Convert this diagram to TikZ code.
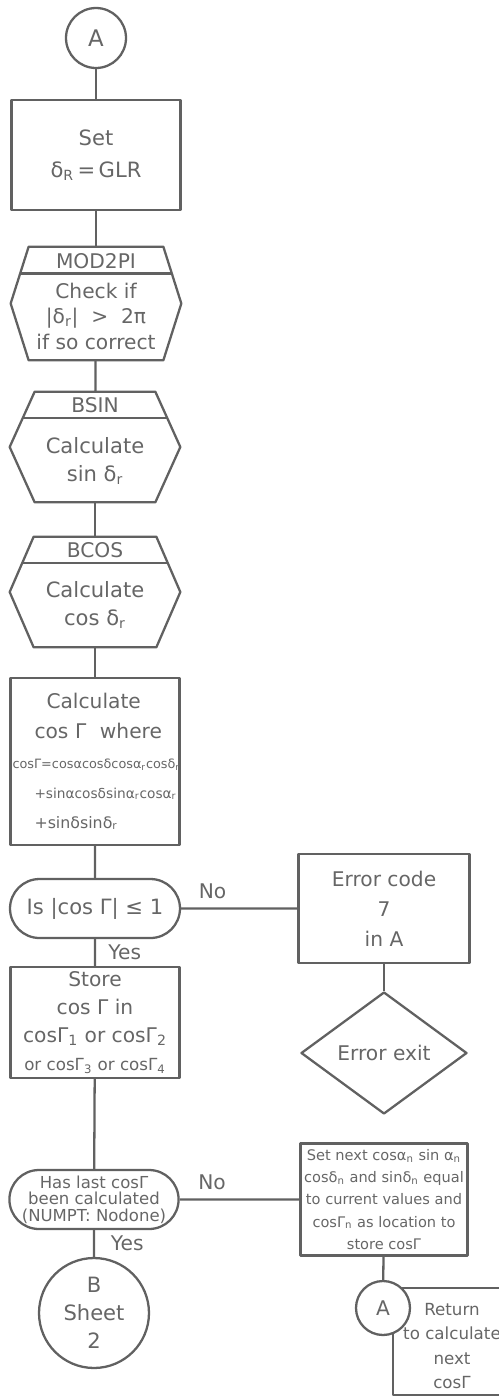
\documentclass[tikz,border=0pt]{standalone}
\usepackage{fontspec}
\setmainfont{DejaVu Sans}
\usepackage{tikz}
\usetikzlibrary{shapes.geometric, shapes.misc, calc}

\begin{document}
\begin{tikzpicture}[%
    x=0.02cm, y=-0.02cm,
    every node/.style={text=black!60, font=\fontsize{11.5}{17}\selectfont},
    ink/.style={draw=black!62, line width=1.3pt, line join=round},
    procbox/.style={ink, rectangle, align=center, inner sep=0, minimum width=3.38cm},
    termcircle/.style={ink, circle, align=center, inner sep=0, fill=white},
    decision/.style={ink, rounded rectangle, align=center, inner sep=0,
      minimum width=3.4cm, minimum height=1.18cm},
    hexhold/.style={rectangle, inner sep=0, minimum width=3.4cm},
    errexit/.style={ink, diamond, aspect=1.4, inner sep=0,
      minimum width=3.32cm, minimum height=2.44cm},
    lbl/.style={inner sep=1pt}
  ]
    \useasboundingbox (0,0) rectangle (499,1397);

    % main column
    \node[termcircle, minimum size=1.2cm, font=\fontsize{13}{17}\selectfont] at (96,38) (1) {A};
    \node[procbox, minimum height=2.2cm, font=\fontsize{12}{18}\selectfont] at (96,155) (2) {Set\\δ\textsubscript{R}\,=\,GLR};

    \node[hexhold, minimum height=2.26cm] at (96,303.5) (3) {};
    \node at (96,261) (3h) {MOD2PI};
    \node[align=center, font=\fontsize{11.5}{14.5}\selectfont] at (96,316) (3b) {Check if\\|δ\textsubscript{r}| \ > \ 2π\\if so correct};

    \node[hexhold, minimum height=2.2cm] at (95,447) (4) {};
    \node at (95,405) (4h) {BSIN};
    \node[align=center, font=\fontsize{12}{16}\selectfont] at (95,461) (4b) {Calculate\\sin δ\textsubscript{r}};

    \node[hexhold, minimum height=2.2cm] at (95,592) (5) {};
    \node at (95,550) (5h) {BCOS};
    \node[align=center, font=\fontsize{12}{16}\selectfont] at (95,605) (5b) {Calculate\\cos δ\textsubscript{r}};

    \foreach \n/\d in {3/18,4/25,5/24}{
      \coordinate (\n tl) at ($(\n.north west)+(\d,0)$);
      \coordinate (\n tr) at ($(\n.north east)+(-\d,0)$);
      \coordinate (\n bl) at ($(\n.south west)+(\d,0)$);
      \coordinate (\n br) at ($(\n.south east)+(-\d,0)$);
      \draw[ink] (\n tl) -- (\n tr) -- (\n.east) -- (\n br) -- (\n bl) -- (\n.west) -- cycle;
      \draw[ink] ($(\n tl)!0.47!(\n.west)$) -- ($(\n tr)!0.47!(\n.east)$);
    }

    \node[procbox, minimum height=3.34cm, text width=3.3cm, align=left] at (95,761.5) (6) {\hspace*{0.68cm}Calculate\\
      \hspace*{0.44cm}cos Γ \ where\\
      {\fontsize{7.3}{17}\selectfont cosΓ=cosαcosδcosα\textsubscript{r}cosδ\textsubscript{r}}\\
      \hspace*{0.44cm}{\fontsize{7.8}{17}\selectfont +sinαcosδsinα\textsubscript{r}cosα\textsubscript{r}}\\
      \hspace*{0.44cm}{\fontsize{9}{17}\selectfont +sinδsinδ\textsubscript{r}}};

    \node[decision, font=\fontsize{12}{17}\selectfont] at (95,908.5) (7) {Is |cos Γ| ≤ 1};
    \node[procbox, minimum height=2.22cm, font=\fontsize{11.5}{16}\selectfont] at (95,1022.5) (10) {Store\\cos Γ in\\cosΓ\textsubscript{1} or cosΓ\textsubscript{2}\\{\fontsize{9.5}{16}\selectfont or cosΓ\textsubscript{3} or cosΓ\textsubscript{4}}};
    \node[decision, minimum width=3.38cm, font=\fontsize{9.4}{9.5}\selectfont] at (94,1199.5) (11) {Has last cosΓ\\been calculated\\(NUMPT: Nodone)};
    \node[termcircle, minimum size=2.2cm, font=\fontsize{12}{16}\selectfont] at (94,1313) (12) {B\\Sheet\\2};

    % right column
    \node[procbox, minimum width=3.42cm, minimum height=2.18cm] at (384,908.5) (8) {Error code\\7\\in A};
    \node[errexit] at (384,1053) (9) {Error exit};
    \node[procbox, minimum width=3.34cm, minimum height=2.24cm, font=\fontsize{8.3}{12.6}\selectfont] at (384,1199.5) (13) {Set next cosα\textsubscript{n} sin α\textsubscript{n}\\cosδ\textsubscript{n} and sinδ\textsubscript{n} equal\\to current values and\\cosΓ\textsubscript{n} as location to\\store cosΓ};

    \coordinate (15a) at (499,1288);
    \coordinate (15b) at (393,1395);
    \draw[ink] (15a) -| (15b) -- (15b -| 15a);
    \node[align=center, font=\fontsize{9.5}{14}\selectfont] at (452,1346) (15) {Return\\to calculate\\next\\cosΓ};
    \node[termcircle, minimum size=1.08cm] at (383,1308) (14) {A};

    \path[ink]
        (1) edge (2)
        (2) edge (3)
        (3) edge (4)
        (4) edge (5)
        (5) edge (6)
        (6) edge (7)
        (7) edge node[lbl, above=4pt, pos=0.27] {No} (8)
        (7) edge node[lbl, right=6pt] {Yes} (10)
        (8) edge (9)
        (10) edge (11)
        (11) edge node[lbl, above=4pt, pos=0.27] {No} (13)
        (11) edge node[lbl, right=8pt] {Yes} (12)
        (13) edge (14)
        ;
\end{tikzpicture}
\end{document}
